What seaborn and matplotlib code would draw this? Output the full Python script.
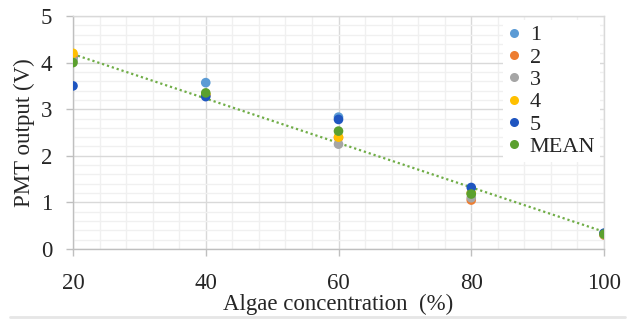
import numpy as np
import pandas as pd
import matplotlib
matplotlib.use('Agg')
import matplotlib.pyplot as plt
from matplotlib.lines import Line2D
from matplotlib.ticker import MultipleLocator
import seaborn as sns

# ==================== data ====================
concentration = [20, 40, 60, 80, 100]
run_1 = [4.10, 3.57, 2.83, 1.20, 0.33]
run_2 = [4.15, 3.30, 2.39, 1.05, 0.30]
run_3 = [4.05, 3.30, 2.25, 1.10, 0.31]
run_4 = [4.20, 3.32, 2.40, 1.20, 0.32]
run_5 = [3.50, 3.27, 2.78, 1.32, 0.34]
mean_vals = [4.00, 3.35, 2.53, 1.18, 0.32]

series_names = ['1', '2', '3', '4', '5', 'MEAN']
series_vals = [run_1, run_2, run_3, run_4, run_5, mean_vals]
colors = ['#5B9BD5', '#ED7D31', '#A5A5A5', '#FFC000', '#1F55C0', '#5BA02E']

rows = []
for name, vals in zip(series_names, series_vals):
    for c, v in zip(concentration, vals):
        rows.append({'conc': c, 'pmt': v, 'series': name})
df = pd.DataFrame(rows)

# ==================== plot ====================
sns.set_style('white')
plt.rcParams['font.family'] = ['Liberation Serif', 'DejaVu Serif']

fig = plt.figure(figsize=(6.34, 3.2), dpi=100)
ax = fig.add_axes([73 / 634, 1 - 249 / 320, (604 - 73) / 634, (249 - 16) / 320])

# linear trendline of the mean (dotted)
coef = np.polyfit(concentration, mean_vals, 1)
xs = np.array([20, 100])
ax.plot(xs, np.polyval(coef, xs), color='#70AD47', linestyle=(0, (1, 1.3)),
        linewidth=1.6, zorder=2)

sns.scatterplot(data=df, x='conc', y='pmt', hue='series', hue_order=series_names,
                palette=colors, s=48, linewidth=0, ax=ax, legend=False, zorder=3)

ax.set_xlim(20, 100)
ax.set_ylim(0, 5)
ax.xaxis.set_major_locator(MultipleLocator(20))
ax.xaxis.set_minor_locator(MultipleLocator(4))
ax.yaxis.set_major_locator(MultipleLocator(1))
ax.yaxis.set_minor_locator(MultipleLocator(0.2))
ax.grid(which='major', color='#d9d9d9', linewidth=1.0)
ax.grid(which='minor', color='#f0f0f0', linewidth=1.0)
ax.set_axisbelow(True)

for side in ['left', 'bottom']:
    ax.spines[side].set_color('#bfbfbf')
    ax.spines[side].set_linewidth(1.0)
for side in ['top', 'right']:
    ax.spines[side].set_color('#d9d9d9')
    ax.spines[side].set_linewidth(1.0)

ax.tick_params(which='major', length=5, width=1, color='#bfbfbf', labelsize=16.5,
               direction='out', bottom=True, left=True)
ax.tick_params(axis='x', which='major', pad=12)
ax.tick_params(axis='y', which='major', pad=10)
ax.tick_params(which='minor', length=0)

ax.set_xlabel('Algae concentration  (%)', fontsize=16.5, labelpad=0)
ax.set_ylabel('PMT output (V)', fontsize=16.5, labelpad=4)

handles = [Line2D([0], [0], marker='o', linestyle='none', markersize=6.5,
                  markerfacecolor=c, markeredgewidth=0) for c in colors]
leg = ax.legend(handles, series_names, loc='upper right', bbox_to_anchor=(1.0, 1.0),
                fontsize=16, frameon=True, framealpha=1, edgecolor='none',
                facecolor='white', handlelength=0.6, handletextpad=0.4,
                labelspacing=0.08, borderpad=0.2, borderaxespad=0.2)
leg.set_zorder(5)

# light separator line at the very bottom of the image
fig.add_artist(Line2D([10 / 634, 625 / 634], [1 - 317 / 320, 1 - 317 / 320],
                      color='#e6e6e6', linewidth=2, transform=fig.transFigure))

fig.savefig('out.png', dpi=100)
